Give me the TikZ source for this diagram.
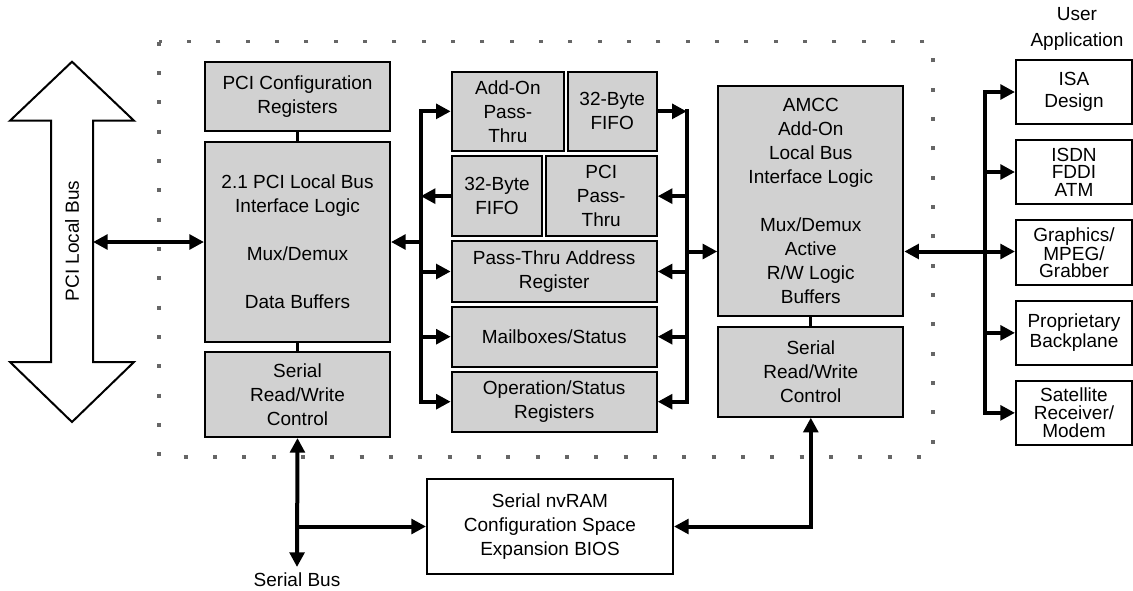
\documentclass[tikz,border=0pt]{standalone}
\usepackage{fontspec}
\setmainfont{Liberation Sans}
\usetikzlibrary{arrows.meta}
\newcommand\fsz{\fontsize{14.25}{18}\selectfont}
\newcommand\mybox[7]{\node[#1, minimum width={(#5-#3)*0.75pt}, minimum height={(#6-#4)*0.75pt}] (#2) at ({(#3+#5)/2},{(#4+#6)/2}) {#7};}
\begin{document}
\begin{tikzpicture}[x=0.75pt,y=-0.75pt,
  box/.style={draw, line width=1.5pt, fill=black!18, inner sep=0pt, align=center, font=\fsz},
  wbox/.style={draw, line width=1.5pt, fill=white, inner sep=0pt, align=center, font=\fsz},
  conn/.style={line width=3pt, -{Triangle[length=11pt,width=11pt]}},
  dconn/.style={line width=3pt, {Triangle[length=11pt,width=11pt]}-{Triangle[length=11pt,width=11pt]}},
  busline/.style={line width=3pt, line cap=rect},
  link/.style={line width=2.25pt},
  dotframe/.style={draw=black!60, line width=2.4pt, dash pattern=on 3pt off 19pt},
  lbl/.style={align=center, font=\fsz, inner sep=0pt}]
\useasboundingbox (0,0) rectangle (1133,590);
% dotted frame
\draw[dotframe] (159,41.7) rectangle (933,457);
% PCI local bus big arrow
\draw[line width=1.5pt, fill=white] (72,61.7) -- (134,120.7) -- (93,120.7) -- (93,362) -- (134,362) -- (72,422) -- (10,362) -- (51,362) -- (51,120.7) -- (10,120.7) -- cycle;
\node[lbl, rotate=90] (pcibus) at (72,241) {PCI Local Bus};
\coordinate (busR) at (93,242);
% left column
\mybox{box}{cfg}{205}{62}{390}{131}{PCI Configuration\\Registers}
\mybox{box}{pci}{205}{142}{390}{342}{2.1 PCI Local Bus\\Interface Logic\\[18pt]Mux/Demux\\[18pt]Data Buffers}
\mybox{box}{ser1}{205}{352}{390}{437}{Serial\\Read/Write\\Control}
% middle column
\mybox{box}{addon}{451.7}{71.7}{564}{151}{Add-On\\Pass-\\Thru}
\mybox{box}{fifoR}{567.7}{71.7}{656.7}{151}{32-Byte\\FIFO}
\mybox{box}{fifoL}{451.7}{156.3}{542.3}{236}{32-Byte\\FIFO}
\mybox{box}{ppt}{545.7}{156.3}{656.7}{236}{PCI\\Pass-\\Thru}
\mybox{box}{pta}{451.7}{241.3}{656.7}{301.7}{Pass-Thru Address\\Register}
\mybox{box}{mb}{451.7}{306.7}{656.7}{366.7}{Mailboxes/Status}
\mybox{box}{os}{451.7}{371.7}{656.7}{431.7}{Operation/Status\\Registers}
% right column
\mybox{box}{amcc}{718.3}{86}{903.3}{316}{AMCC\\Add-On\\Local Bus\\Interface Logic\\[18pt]Mux/Demux\\Active\\R/W Logic\\Buffers}
\mybox{box}{ser2}{718.3}{326.7}{903.3}{416.7}{Serial\\Read/Write\\Control}
% nvRAM
\mybox{wbox}{nv}{427}{479}{673}{574}{Serial nvRAM\\Configuration Space\\Expansion BIOS}
% user application
\node[lbl, font=\fontsize{14.25}{19.5}\selectfont] (uapp) at (1077,29) {User\\Application};
\mybox{wbox, font=\fontsize{14.25}{16.3}\selectfont}{isa}{1016}{60}{1132}{124}{ISA\\Design}
\mybox{wbox, font=\fontsize{14.25}{13.1}\selectfont}{isdn}{1016}{140}{1132}{204}{ISDN\\FDDI\\ATM}
\mybox{wbox, font=\fontsize{14.25}{13.1}\selectfont}{gfx}{1016}{220}{1132}{285}{Graphics/\\MPEG/\\Grabber}
\mybox{wbox, font=\fontsize{14.25}{15}\selectfont}{prop}{1016}{300.7}{1132}{365}{Proprietary\\Backplane}
\mybox{wbox, font=\fontsize{14.25}{13.3}\selectfont}{sat}{1016}{380.7}{1132}{445}{Satellite\\Receiver/\\Modem}
% links
\draw[link] (cfg.south) -- (pci.north);
\draw[link] (pci.south) -- (ser1.north);
\draw[link] (amcc.south) -- (ser2.north);
% PCI bus connector
\draw[dconn] (busR) -- (pci.west);
% bus coordinates
\coordinate (LB) at (420.7,0);
\coordinate (RB) at (686.7,0);
\coordinate (UB) at (985,0);
\coordinate (my) at (0,251.5);
% left bus
\draw[busline] (LB |- addon.west) -- (LB |- os.west);
\draw[conn] (LB |- addon.west) -- (addon.west);
\draw[conn] (fifoL.west) -- (LB |- fifoL.west);
\draw[conn] (LB |- pci.east) -- (pci.east);
\draw[conn] (LB |- pta.west) -- (pta.west);
\draw[conn] (LB |- mb.west) -- (mb.west);
\draw[conn] (LB |- os.west) -- (os.west);
% right bus
\draw[busline] (RB |- fifoR.east) -- (RB |- os.east);
\draw[conn] (fifoR.east) -- (RB |- fifoR.east);
\draw[conn] (RB |- ppt.east) -- (ppt.east);
\draw[conn] (RB |- pta.east) -- (pta.east);
\draw[conn] (RB |- mb.east) -- (mb.east);
\draw[conn] (RB |- os.east) -- (os.east);
\draw[conn] (RB |- my) -- (amcc.west |- my);
% user bus
\draw[conn] (UB |- my) -- (amcc.east |- my);
\draw[busline] (UB |- isa.west) -- (UB |- sat.west);
\draw[conn] (UB |- isa.west) -- (isa.west);
\draw[conn] (UB |- isdn.west) -- (isdn.west);
\draw[conn] (UB |- my) -- (gfx.west |- my);
\draw[conn] (UB |- prop.west) -- (prop.west);
\draw[conn] (UB |- sat.west) -- (sat.west);
% serial bus
\node[lbl] (sbl) at (297,580) {Serial Bus};
\coordinate (sb) at (297,567);
\draw[dconn] (ser1.south) -- (sb);
\draw[conn] (ser1.south |- nv.west) -- (nv.west);
\draw[dconn] (nv.east) -- (ser2.south |- nv.east) -- (ser2.south);
\end{tikzpicture}
\end{document}
